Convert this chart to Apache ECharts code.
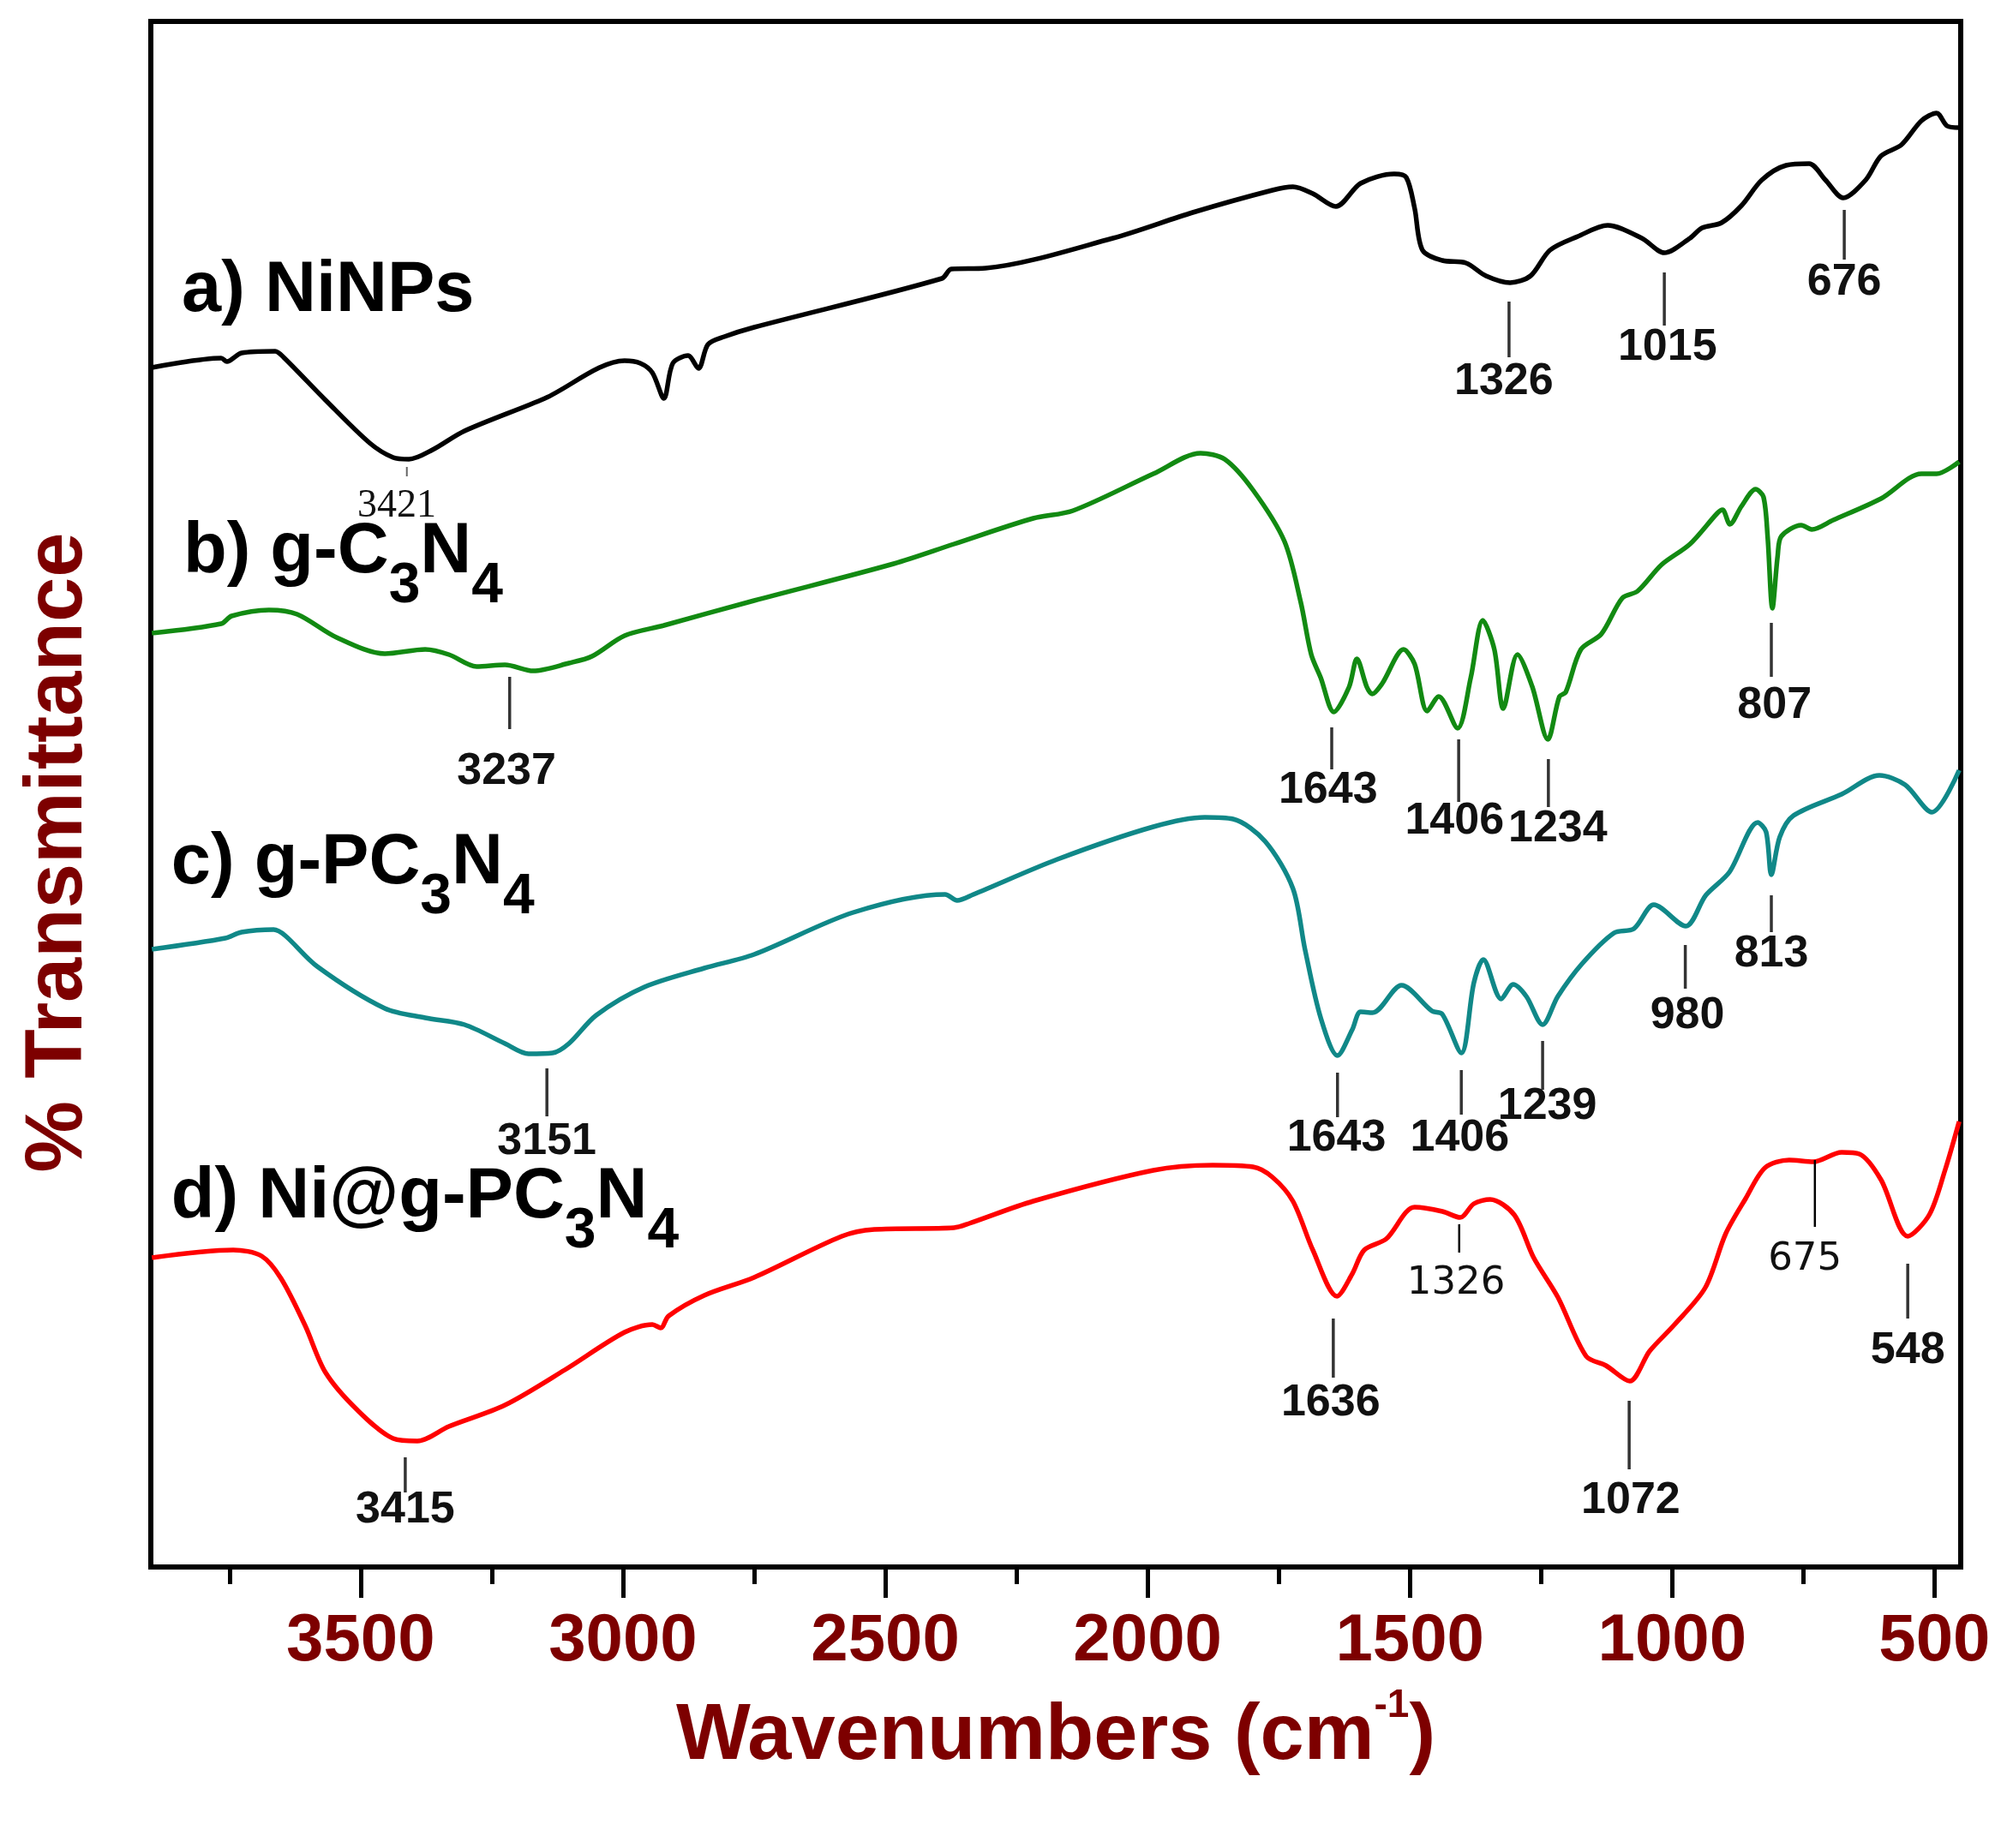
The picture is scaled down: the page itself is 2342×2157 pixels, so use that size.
<!DOCTYPE html>
<html>
<head>
<meta charset="utf-8">
<script src="https://cdn.jsdelivr.net/npm/echarts@6/dist/echarts.min.js"></script>
<style>
html,body{margin:0;padding:0;background:#fff;}
#chart{width:2342px;height:2157px;}
</style>
</head>
<body>
<div id="chart"></div>
<script>
// ---------- DATA (wavenumber cm-1, offset transmittance a.u.) ----------
const niNPs = [[3898,1400],[3766,1411],[3755,1407],[3727,1417],[3663,1419],[3647,1412],[3567,1362],[3483,1312],[3438,1295],[3408,1293],[3363,1304],[3302,1326],[3149,1364],[2997,1408],[2967,1405],[2944,1394],[2922,1364],[2905,1405],[2876,1414],[2856,1399],[2838,1427],[2807,1436],[2750,1447],[2392,1504],[2374,1515],[2309,1516],[2066,1551],[1914,1581],[1762,1607],[1723,1611],[1685,1603],[1641,1588],[1594,1615],[1530,1626],[1507,1622],[1491,1586],[1476,1537],[1438,1525],[1393,1522],[1355,1507],[1309,1499],[1270,1507],[1233,1537],[1180,1553],[1123,1566],[1058,1551],[1015,1534],[966,1551],[943,1563],[906,1569],[868,1589],[829,1619],[783,1636],[739,1638],[708,1619],[674,1598],[631,1619],[602,1647],[563,1660],[525,1688],[496,1697],[476,1682],[453,1680]];
const gC3N4 = [[3898,1090],[3766,1101],[3746,1110],[3675,1117],[3621,1112],[3546,1085],[3454,1066],[3377,1071],[3332,1065],[3279,1051],[3225,1053],[3171,1046],[3103,1055],[3059,1063],[2997,1087],[2922,1099],[2750,1128],[2484,1171],[2369,1194],[2218,1224],[2142,1233],[1989,1276],[1899,1300],[1853,1293],[1799,1257],[1739,1197],[1708,1126],[1688,1065],[1670,1038],[1645,998],[1616,1027],[1601,1060],[1582,1027],[1572,1019],[1553,1031],[1512,1071],[1491,1054],[1467,999],[1445,1016],[1409,979],[1384,1038],[1361,1105],[1339,1071],[1322,1002],[1295,1065],[1267,1028],[1237,966],[1215,1016],[1203,1021],[1174,1071],[1135,1089],[1095,1131],[1066,1139],[1020,1170],[966,1194],[914,1230],[904,1234],[890,1217],[868,1238],[841,1258],[826,1249],[818,1202],[809,1119],[799,1180],[792,1203],[754,1216],[734,1211],[693,1222],[602,1247],[525,1276],[496,1276],[453,1290]];
const gPC3N4 = [[3898,721],[3758,734],[3727,741],[3666,744],[3644,737],[3583,701],[3454,652],[3377,641],[3302,633],[3225,611],[3180,599],[3134,600],[3103,611],[3051,644],[2959,677],[2845,699],[2750,715],[2561,764],[2386,785],[2363,778],[2332,785],[2172,826],[1989,864],[1891,875],[1837,873],[1776,847],[1723,792],[1700,721],[1670,641],[1638,597],[1610,627],[1594,648],[1571,647],[1516,679],[1458,649],[1438,645],[1402,600],[1378,682],[1360,709],[1326,663],[1303,680],[1278,666],[1247,633],[1218,666],[1172,704],[1111,740],[1073,745],[1035,773],[974,748],[936,784],[891,811],[837,869],[821,858],[811,808],[795,852],[769,877],[677,902],[605,924],[556,913],[505,881],[453,930]];
const niGPC3N4 = [[3898,361],[3743,370],[3689,363],[3652,337],[3606,282],[3567,227],[3506,183],[3438,150],[3392,147],[3332,164],[3225,189],[3111,230],[2997,274],[2944,283],[2928,279],[2913,293],[2845,317],[2750,338],[2583,386],[2521,394],[2369,396],[2340,401],[2218,427],[1989,463],[1876,469],[1799,467],[1762,455],[1723,427],[1685,370],[1639,316],[1610,342],[1587,370],[1545,383],[1491,420],[1438,415],[1404,408],[1378,424],[1347,429],[1301,411],[1264,361],[1218,315],[1164,246],[1126,235],[1081,217],[1043,252],[997,282],[937,326],[898,389],[860,430],[823,466],[777,475],[731,473],[677,484],[643,482],[602,452],[551,386],[510,411],[480,463],[453,520]];

const seriesNames = ['a) NiNPs', 'b) g-C_3N_4', 'c) g-PC_3N_4', 'd) Ni@g-PC_3N_4'];
const seriesNameAnchor = [[3841,1489],[3838,1184],[3861,821],[3861,431]];

const majorTicks = [3500, 3000, 2500, 2000, 1500, 1000, 500];
const minorTicks = [3750, 3250, 2750, 2250, 1750, 1250, 750];

const peakLabels = ['3421','1326','1015','676','3237','1643','1406','1234','807','3151','1643','1406','1239','980','813','3415','1636','1326','1072','675','548'];
const peakLineW   = [3412,1311,1015,672,3216,1649,1407,1236,811,3145,1638,1402,1247,975,811,3415,1646,1406,1082,728,551];
const peakLineTop = [1284,1477,1511,1584,1039,980,966,943,1102,582,577,580,614,726,784,128,290,400,194,475,354];
const peakLineBot = [1273,1412,1449,1526,978,931,893,887,1039,526,525,528,557,675,741,87,221,367,114,397,290];
const peakTextW   = [3431,1321,1009,672,3222,1656,1415,1218,805,3145,1640,1405,1238,971,811,3415,1651,1412,1079,747,551];
const peakTextY   = [1238,1383,1423,1499,928,906,870,861,1005,496,500,500,537,643,715,66,191,331,77,359,252];
const peakKind    = ['serif','bold','bold','bold','bold','bold','bold','bold','bold','bold','bold','bold','bold','bold','bold','bold','bold','plain','bold','plain','bold'];

// ---------- STYLE ----------
const FONT = '"Liberation Sans", Arial, Helvetica, sans-serif';
const DARKRED = '#7d0000';
const colors = ['#000000', '#128a12', '#108888', '#ff0000'];
const PEAK_STYLE = {
  bold:  {font: 'bold 52px ' + FONT, line: '#333333', lw: 3.5},
  plain: {font: '45px "DejaVu Sans", Verdana, sans-serif', line: '#000000', lw: 2.5},
  serif: {font: '46px "Liberation Serif", "Times New Roman", serif', line: '#666666', lw: 2}
};
const NAME_FONT = 83, SUB_FONT = 66, SUB_DY = 40;

const measureCtx = document.createElement('canvas').getContext('2d');
function textWidth(t, font) { measureCtx.font = font; return measureCtx.measureText(t).width; }
function parseName(s) {
  const parts = [];
  let buf = '';
  for (let i = 0; i < s.length; i++) {
    if (s[i] === '_') {
      if (buf) { parts.push({t: buf, sub: false}); buf = ''; }
      parts.push({t: s[i + 1], sub: true}); i++;
    } else buf += s[i];
  }
  if (buf) parts.push({t: buf, sub: false});
  return parts;
}

const chart = echarts.init(document.getElementById('chart'), null, {renderer: 'canvas'});

const lineSeries = [niNPs, gC3N4, gPC3N4, niGPC3N4].map((d, i) => ({
  type: 'line',
  data: d,
  xAxisIndex: 0,
  yAxisIndex: 0,
  showSymbol: false,
  symbol: 'none',
  smooth: 0.3,
  lineStyle: {color: colors[i], width: 5.5},
  z: 3,
  silent: true
}));

const nameSeries = {
  type: 'custom',
  xAxisIndex: 0, yAxisIndex: 0,
  clip: false, silent: true, z: 5,
  data: seriesNameAnchor,
  renderItem(params, api) {
    const i = params.dataIndex;
    const pt = api.coord([api.value(0), api.value(1)]);
    const parts = parseName(seriesNames[i]);
    let x = pt[0];
    const children = [];
    parts.forEach(p => {
      const font = 'bold ' + (p.sub ? SUB_FONT : NAME_FONT) + 'px ' + FONT;
      children.push({
        type: 'text', x: x, y: pt[1] + (p.sub ? SUB_DY : 0),
        style: {text: p.t, font: font, fill: '#000', align: 'left', verticalAlign: 'middle'}
      });
      x += textWidth(p.t, font);
    });
    return {type: 'group', children};
  }
};

const peakData = peakLabels.map((_, i) => [peakLineW[i], peakLineTop[i], peakLineBot[i], peakTextW[i], peakTextY[i]]);
const peakSeries = {
  type: 'custom',
  xAxisIndex: 0, yAxisIndex: 0,
  clip: false, silent: true, z: 4,
  encode: {x: [0, 3], y: [1, 2, 4]},
  data: peakData,
  renderItem(params, api) {
    const i = params.dataIndex;
    const p1 = api.coord([api.value(0), api.value(1)]);
    const p2 = api.coord([api.value(0), api.value(2)]);
    const pt = api.coord([api.value(3), api.value(4)]);
    const st = PEAK_STYLE[peakKind[i]];
    return {type: 'group', children: [
      {type: 'line', shape: {x1: p1[0], y1: p1[1], x2: p2[0], y2: p2[1]}, style: {stroke: st.line, lineWidth: st.lw}},
      {type: 'text', x: pt[0], y: pt[1], style: {text: peakLabels[i], font: st.font, fill: '#111', align: 'center', verticalAlign: 'middle'}}
    ]};
  }
};

const option = {
  backgroundColor: '#ffffff',
  animation: false,
  grid: {left: 176, right: 54, top: 25, bottom: 328, show: true, borderColor: '#000', borderWidth: 6, backgroundColor: 'transparent'},
  xAxis: [{
    type: 'value', inverse: true, min: 450, max: 3900,
    position: 'bottom',
    axisLine: {show: true, onZero: false, lineStyle: {color: '#000', width: 6}},
    axisTick: {show: true, inside: false, length: 36, customValues: majorTicks, lineStyle: {color: '#000', width: 5}},
    axisLabel: {show: true, customValues: majorTicks, margin: 48, color: DARKRED, fontSize: 78, fontWeight: 'bold', fontFamily: FONT, formatter: v => String(v)},
    splitLine: {show: false},
    name: '{t|Wavenumbers (cm}{s|-1}{t|)}',
    nameLocation: 'middle',
    nameGap: 139,
    nameTextStyle: {
      rich: {
        t: {fontSize: 92, fontWeight: 'bold', fontFamily: FONT, color: DARKRED, lineHeight: 106, verticalAlign: 'bottom'},
        s: {fontSize: 46, fontWeight: 'bold', fontFamily: FONT, color: DARKRED, verticalAlign: 'top'}
      }
    }
  }, {
    type: 'value', inverse: true, min: 450, max: 3900,
    position: 'bottom',
    axisLine: {show: false},
    axisTick: {show: true, inside: false, length: 20, customValues: minorTicks, lineStyle: {color: '#000', width: 5}},
    axisLabel: {show: false},
    splitLine: {show: false}
  }],
  yAxis: {
    type: 'value', min: 0, max: 1804,
    axisLine: {show: false}, axisTick: {show: false}, axisLabel: {show: false}, splitLine: {show: false},
    name: '% Transmittance',
    nameLocation: 'middle',
    nameRotate: 90,
    nameGap: 60,
    nameTextStyle: {color: DARKRED, fontSize: 94, fontWeight: 'bold', fontFamily: FONT, padding: [0, 136, 0, 0]}
  },
  series: [...lineSeries, peakSeries, nameSeries]
};
chart.setOption(option);
</script>
</body>
</html>
